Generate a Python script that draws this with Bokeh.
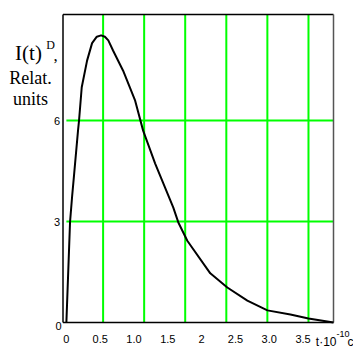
from bokeh.plotting import figure
from bokeh.core.properties import value
from bokeh.embed import file_html
from bokeh.resources import INLINE

# ---- data ----
curve_t = [0.0, 0.054, 0.085, 0.113, 0.172, 0.187, 0.227, 0.306, 0.38, 0.45, 0.513,
           0.57, 0.62, 0.69, 0.839, 1.017, 1.135, 1.313, 1.58, 1.654, 1.788, 2.128,
           2.38, 2.676, 2.973, 3.313, 3.58, 3.95]
curve_i = [0.0, 2.98, 3.75, 4.37, 5.70, 6.0, 6.99, 7.78, 8.30, 8.49, 8.53,
           8.49, 8.38, 8.08, 7.48, 6.59, 5.70, 4.72, 3.42, 2.98, 2.43, 1.46,
           1.04, 0.65, 0.36, 0.24, 0.12, 0.0]
grid_t = [0.543, 1.15, 1.757, 2.365, 2.972, 3.58]
grid_i = [3, 6]
x_ticks = [0, 0.5, 1.0, 1.5, 2.0, 2.5, 3.0, 3.5]
x_tick_labels = ["0", "0.5", "1.0", "1.5", "2", "2.5", "3.0", "3.5"]
y_ticks = [6, 3]
y_tick_labels = ["6", "3"]
y_zero_label = "0"

# plot box in data units
X0, X1 = -0.05, 3.95
Y0, Y1 = 0.0, 9.15

# page-pixel placement of the plot box
FL, FR, FT, FB = 62.5, 333.0, 14.0, 322.0
W, H = 353, 347
sx = (FR - FL) / (X1 - X0)
sy = (FB - FT) / (Y1 - Y0)
XL = X0 - FL / sx
XR = X1 + (W - FR) / sx
YT = Y1 + FT / sy
YB = Y0 - (H - FB) / sy

def dx(px):
    return X0 + (px - FL) / sx
def dy(py):
    return Y0 + (FB - py) / sy

p = figure(width=W, height=H, x_range=(XL, XR), y_range=(YB, YT),
           output_backend="svg", toolbar_location=None, min_border=0)
p.axis.visible = False
p.xgrid.visible = False
p.ygrid.visible = False
p.outline_line_color = None
p.background_fill_color = "white"
p.border_fill_color = "white"

GREEN = "#00ff00"
# grid lines
p.segment(x0=grid_t, y0=[Y0] * len(grid_t), x1=grid_t, y1=[Y1] * len(grid_t),
          line_color=GREEN, line_width=2)
p.segment(x0=[0] * len(grid_i), y0=grid_i, x1=[X1] * len(grid_i), y1=grid_i,
          line_color=GREEN, line_width=2)

# plot box
p.segment(x0=[X0, X0, X0], y0=[Y0, Y1, Y0], x1=[X0, X1, X1], y1=[Y1, Y1, Y0],
          line_color="black", line_width=1.5)
p.segment(x0=[X1], y0=[Y0], x1=[X1], y1=[Y1], line_color="#555555", line_width=1.5)

# curve
p.line(curve_t, curve_i, line_color="black", line_width=2, line_join="round")

num_font = value("Liberation Sans")
serif = value("Liberation Serif")

# tick labels
p.text(x=x_ticks, y=[dy(338)] * len(x_ticks), text=x_tick_labels,
       text_font=num_font, text_font_size="11px", text_align="center",
       text_baseline="middle", text_color="black")
p.text(x=[dx(59.5)] * len(y_ticks), y=y_ticks, text=y_tick_labels,
       text_font=num_font, text_font_size="11px", text_align="right",
       text_baseline="middle", text_color="black")
p.text(x=[dx(61)], y=[dy(325)], text=[y_zero_label],
       text_font=num_font, text_font_size="11px", text_align="right",
       text_baseline="middle", text_color="black")

def lab(text, px, py, size, align="center", baseline="middle", font=serif):
    p.text(x=[dx(px)], y=[dy(py)], text=[text], text_font=font,
           text_font_size=size, text_align=align, text_baseline=baseline,
           text_color="black")

# y title
lab("I(t)", 28, 52, "21px")
lab("D", 50, 44, "12px")
lab(",", 55, 55, "17px")
lab("Relat.", 30, 77, "18px")
lab("units", 30, 98, "18px")

# x title
lab("t\u00b710", 336, 341, "12px", align="right", baseline="alphabetic", font=num_font)
lab("-10", 336, 333, "9px", align="left", baseline="alphabetic", font=num_font)
lab("c", 347, 341, "12px", align="left", baseline="alphabetic", font=num_font)

open("out.html", "w").write(file_html(p, INLINE))
